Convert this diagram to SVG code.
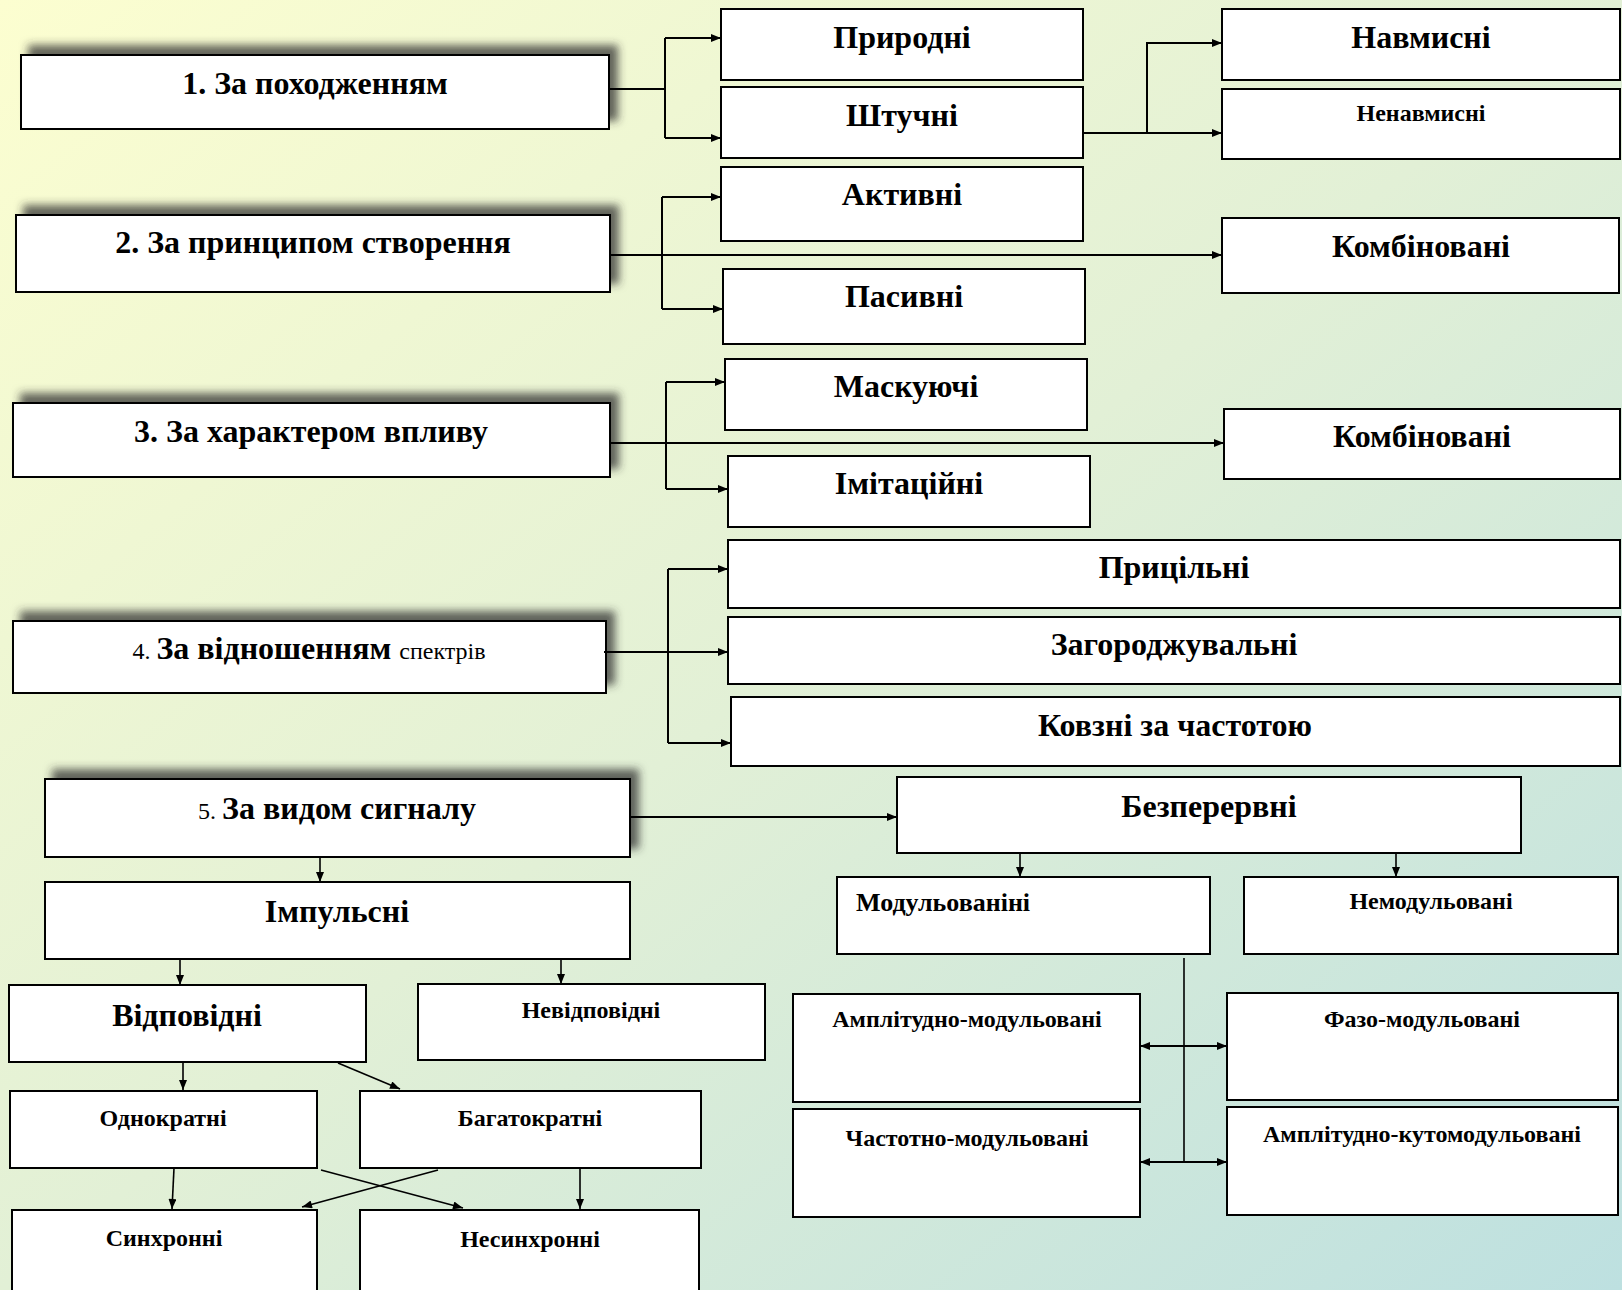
<svg xmlns="http://www.w3.org/2000/svg" width="1622" height="1290" viewBox="0 0 1622 1290">
<defs>
<linearGradient id="bg" x1="0" y1="0" x2="1" y2="1">
<stop offset="0" stop-color="#fcfed0"/>
<stop offset="0.5" stop-color="#e2f0d6"/>
<stop offset="1" stop-color="#bde0e0"/>
</linearGradient>
<filter id="sh" x="-10%" y="-40%" width="120%" height="180%">
<feDropShadow dx="8" dy="-9" stdDeviation="4" flood-color="#333" flood-opacity="0.75"/>
</filter>
<marker id="ah" viewBox="0 0 10 8" refX="10" refY="4" markerWidth="10" markerHeight="8" markerUnits="userSpaceOnUse" orient="auto-start-reverse">
<path d="M0,0 L10,4 L0,8 z" fill="#000"/>
</marker>
<marker id="as" viewBox="0 0 10 8" refX="10" refY="4" markerWidth="11" markerHeight="8" markerUnits="userSpaceOnUse" orient="auto-start-reverse">
<path d="M0,0 L10,4 L0,8 z" fill="#000"/>
</marker>
</defs>
<style>
.b{fill:#fff;stroke:#000;stroke-width:2}
.s{filter:url(#sh)}
text{font-family:"Liberation Serif","Times New Roman",serif;font-weight:bold;fill:#000;text-anchor:middle}
.L{font-size:32px}
.M{font-size:24px}
.r{font-weight:normal}
.c path{fill:none;stroke:#000;stroke-width:2}
.c .t{stroke-width:1.6}
</style>
<rect x="0" y="0" width="1622" height="1290" fill="url(#bg)"/>

<g id="n1"><rect class="b s" x="21" y="55" width="588" height="74"/><text class="L" x="315" y="94">1. За походженням</text></g>
<g id="n-pryrodni"><rect class="b" x="721" y="9" width="362" height="71"/><text class="L" x="902" y="48">Природні</text></g>
<g id="n-shtuchni"><rect class="b" x="721" y="87" width="362" height="71"/><text class="L" x="902" y="126">Штучні</text></g>
<g id="n-navmysni"><rect class="b" x="1222" y="9" width="398" height="71"/><text class="L" x="1421" y="48">Навмисні</text></g>
<g id="n-nenavmysni"><rect class="b" x="1222" y="89" width="398" height="70"/><text class="M" x="1421" y="121">Ненавмисні</text></g>

<g id="n2"><rect class="b s" x="16" y="215" width="594" height="77"/><text class="L" x="313" y="253">2. За принципом створення</text></g>
<g id="n-aktyvni"><rect class="b" x="721" y="167" width="362" height="74"/><text class="L" x="902" y="205">Активні</text></g>
<g id="n-pasyvni"><rect class="b" x="723" y="269" width="362" height="75"/><text class="L" x="904" y="307">Пасивні</text></g>
<g id="n-komb1"><rect class="b" x="1222" y="218" width="397" height="75"/><text class="L" x="1421" y="257">Комбіновані</text></g>

<g id="n3"><rect class="b s" x="13" y="403" width="597" height="74"/><text class="L" x="311" y="442">3. За характером впливу</text></g>
<g id="n-maskuiuchi"><rect class="b" x="725" y="359" width="362" height="71"/><text class="L" x="906" y="397">Маскуючі</text></g>
<g id="n-imitatsiini"><rect class="b" x="728" y="456" width="362" height="71"/><text class="L" x="909" y="494">Імітаційні</text></g>
<g id="n-komb2"><rect class="b" x="1224" y="409" width="396" height="70"/><text class="L" x="1422" y="447">Комбіновані</text></g>

<g id="n4"><rect class="b s" x="13" y="621" width="593" height="72"/><text x="309" y="659"><tspan class="M r">4. </tspan><tspan class="L">За відношенням </tspan><tspan class="M r">спектрів</tspan></text></g>
<g id="n-prytsilni"><rect class="b" x="728" y="540" width="892" height="68"/><text class="L" x="1174" y="578">Прицільні</text></g>
<g id="n-zahorodzh"><rect class="b" x="728" y="617" width="892" height="67"/><text class="L" x="1174" y="655">Загороджувальні</text></g>
<g id="n-kovzni"><rect class="b" x="731" y="697" width="889" height="69"/><text class="L" x="1175" y="736">Ковзні за частотою</text></g>

<g id="n5"><rect class="b s" x="45" y="779" width="585" height="78"/><text x="337" y="819"><tspan class="M r">5. </tspan><tspan class="L">За видом сигналу</tspan></text></g>
<g id="n-impulsni"><rect class="b" x="45" y="882" width="585" height="77"/><text class="L" x="337" y="922">Імпульсні</text></g>
<g id="n-vidpovidni"><rect class="b" x="9" y="985" width="357" height="77"/><text class="L" x="187" y="1026">Відповідні</text></g>
<g id="n-nevidpovidni"><rect class="b" x="418" y="984" width="347" height="76"/><text class="M" x="591" y="1018">Невідповідні</text></g>
<g id="n-odnokratni"><rect class="b" x="10" y="1091" width="307" height="77"/><text class="M" x="163" y="1126">Однократні</text></g>
<g id="n-bahatokratni"><rect class="b" x="360" y="1091" width="341" height="77"/><text class="M" x="530" y="1126">Багатократні</text></g>
<g id="n-synkhronni"><rect class="b" x="12" y="1210" width="305" height="90"/><text class="M" x="164" y="1246">Синхронні</text></g>
<g id="n-nesynkhronni"><rect class="b" x="360" y="1210" width="339" height="90"/><text class="M" x="530" y="1247">Несинхронні</text></g>

<g id="n-bezperervni"><rect class="b" x="897" y="777" width="624" height="76"/><text class="L" x="1209" y="817">Безперервні</text></g>
<g id="n-modulovani"><rect class="b" x="837" y="877" width="373" height="77"/><text x="856" y="911" style="text-anchor:start;font-size:26px">Модульованіні</text></g>
<g id="n-nemodulovani"><rect class="b" x="1244" y="877" width="374" height="77"/><text class="M" x="1431" y="909">Немодульовані</text></g>
<g id="n-am"><rect class="b" x="793" y="994" width="347" height="108"/><text class="M" x="967" y="1027">Амплітудно-модульовані</text></g>
<g id="n-fm"><rect class="b" x="1227" y="993" width="391" height="107"/><text class="M" x="1422" y="1027">Фазо-модульовані</text></g>
<g id="n-chm"><rect class="b" x="793" y="1109" width="347" height="108"/><text class="M" x="967" y="1146">Частотно-модульовані</text></g>
<g id="n-akm"><rect class="b" x="1227" y="1107" width="391" height="108"/><text class="M" x="1422" y="1142">Амплітудно-кутомодульовані</text></g>

<g id="connectors" class="c">
<path d="M609,89 H665 M665,38 V138"/>
<path d="M665,38 H721" marker-end="url(#ah)"/>
<path d="M665,138 H721" marker-end="url(#ah)"/>
<path d="M1083,133 H1222" marker-end="url(#ah)"/>
<path d="M1147,133 V43 H1222" marker-end="url(#ah)"/>

<path d="M610,255 H1222" marker-end="url(#ah)"/>
<path d="M662,197 V309"/>
<path d="M662,197 H721" marker-end="url(#ah)"/>
<path d="M662,309 H723" marker-end="url(#ah)"/>

<path d="M610,443 H1224" marker-end="url(#ah)"/>
<path d="M666,382 V489"/>
<path d="M666,382 H725" marker-end="url(#ah)"/>
<path d="M666,489 H728" marker-end="url(#ah)"/>

<path d="M604,652 H728" marker-end="url(#ah)"/>
<path d="M668,569 V743"/>
<path d="M668,569 H728" marker-end="url(#ah)"/>
<path d="M668,743 H731" marker-end="url(#ah)"/>

<path d="M630,817 H897" marker-end="url(#ah)"/>
<path class="t" d="M320,858 V882" marker-end="url(#as)"/>
<path class="t" d="M180,959 V985" marker-end="url(#as)"/>
<path class="t" d="M561,959 V984" marker-end="url(#as)"/>
<path class="t" d="M183,1062 V1090" marker-end="url(#as)"/>
<path class="t" d="M338,1063 L400,1089" marker-end="url(#as)"/>
<path class="t" d="M174,1168 L172,1209" marker-end="url(#as)"/>
<path class="t" d="M321,1170 L463,1208" marker-end="url(#as)"/>
<path class="t" d="M438,1170 L302,1207" marker-end="url(#as)"/>
<path class="t" d="M580,1168 V1209" marker-end="url(#as)"/>
<path class="t" d="M1020,853 V877" marker-end="url(#as)"/>
<path class="t" d="M1396,853 V877" marker-end="url(#as)"/>
<path class="t" d="M1184,958 V1162"/>
<path d="M1140,1046 H1227" marker-start="url(#ah)" marker-end="url(#ah)"/>
<path d="M1140,1162 H1227" marker-start="url(#ah)" marker-end="url(#ah)"/>
</g>
</svg>
